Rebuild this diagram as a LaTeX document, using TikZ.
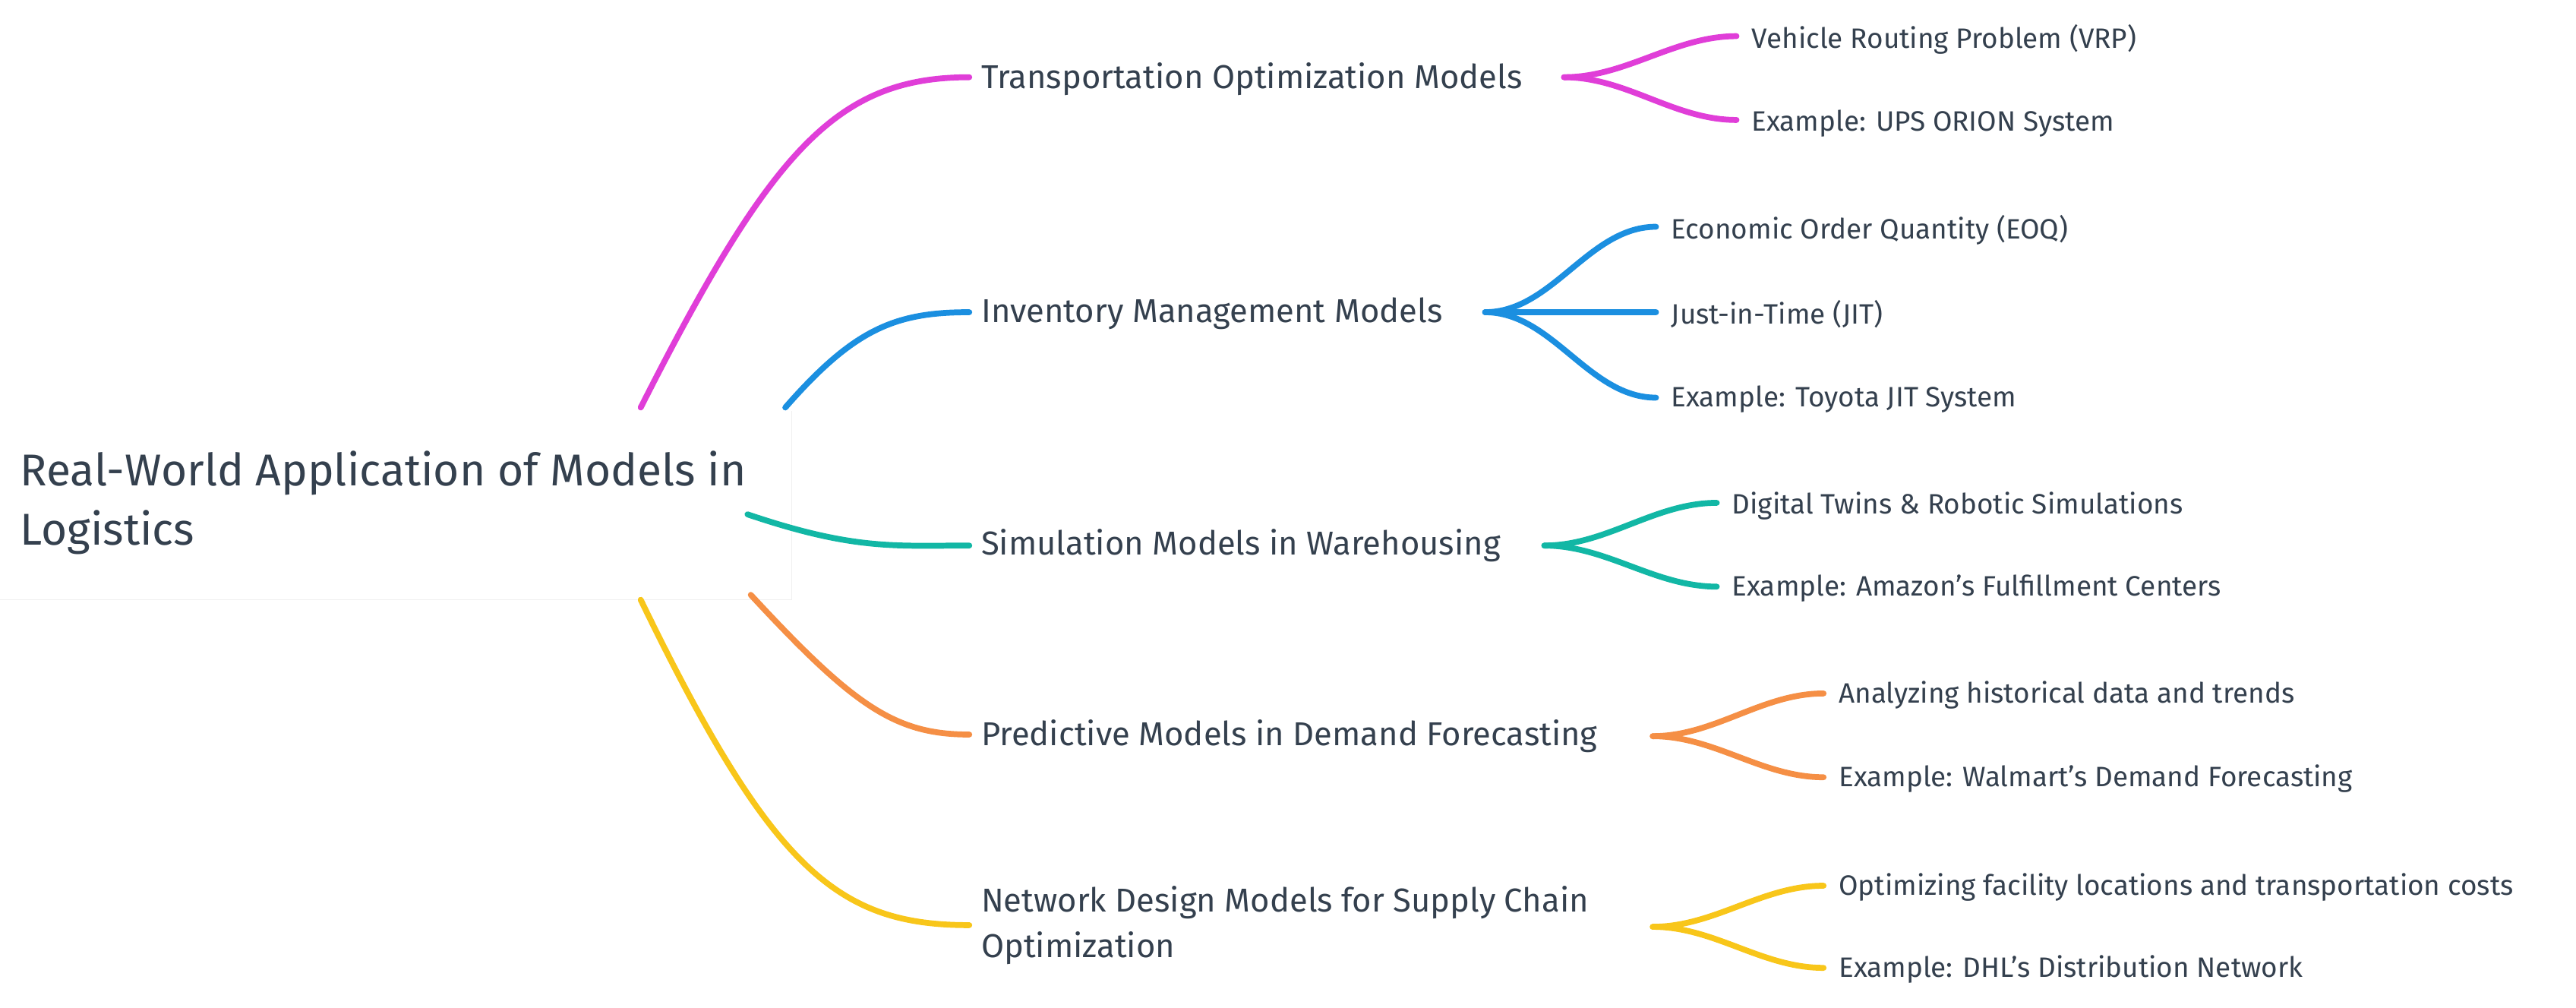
\documentclass[tikz,border=0pt]{standalone}
\usepackage{fontspec}
\setmainfont{Fira Sans}
\begin{document}
\definecolor{tx}{HTML}{34404E}
\definecolor{cmag}{HTML}{E03ED8}
\definecolor{cb}{HTML}{1B8FE0}
\definecolor{ct}{HTML}{12B7A5}
\definecolor{co}{HTML}{F58F45}
\definecolor{cy}{HTML}{F8C61A}
\begin{tikzpicture}[x=0.02163cm,y=-0.02163cm,
  root/.style={anchor=west,align=left,text=tx,font=\fontsize{16.7}{22}\selectfont,inner sep=0pt},
  lone/.style={anchor=west,align=left,text=tx,font=\fontsize{12.4}{17}\selectfont,inner sep=0pt},
  leaf/.style={anchor=west,text=tx,font=\fontsize{10.5}{13}\selectfont,inner sep=0pt},
  br/.style={line width=2.2pt,line cap=round},
  fk/.style={line width=2.2pt,line cap=round,out=0,in=180,looseness=0.9}]
\useasboundingbox (0,0) rectangle (1568,613);
\fill[white] (0,250) rectangle (482,365);
\draw[black!6] (482,250) -- (482,365) -- (0,365);
\node[root] (r) at (12,306) {Real-World Application of Models in\\Logistics};
% level 1
\node[lone] (t) at (597,48) {Transportation Optimization Models};
\node[lone] (i) at (597,191) {Inventory Management Models};
\node[lone] (s) at (597,332) {Simulation Models in Warehousing};
\node[lone] (p) at (597,448) {Predictive Models in Demand Forecasting};
\node[lone] (n) at (597,563) {Network Design Models for Supply Chain\\Optimization};
% branch ends
\coordinate (rt) at (390,248); \coordinate (ri) at (478,248);
\coordinate (rs) at (455,313); \coordinate (rp) at (457,362);
\coordinate (rn) at (390,365);
\draw[br,cmag] (rt) .. controls (470,90) and (510,47) .. (590,47);
\draw[br,cb] (ri) .. controls (520,200) and (545,190) .. (590,190);
\draw[br,ct] (rs) .. controls (520,335) and (545,332) .. (590,332);
\draw[br,co] (rp) .. controls (520,430) and (545,447) .. (590,447);
\draw[br,cy] (rn) .. controls (470,530) and (510,563) .. (590,563);
% leaves
\node[leaf] (t1) at (1066,24) {Vehicle Routing Problem (VRP)};
\node[leaf] (t2) at (1066,75) {Example: UPS ORION System};
\node[leaf] (i1) at (1017,140) {Economic Order Quantity (EOQ)};
\node[leaf] (i2) at (1017,191) {Just-in-Time (JIT)};
\node[leaf] (i3) at (1017,243) {Example: Toyota JIT System};
\node[leaf] (s1) at (1054,308) {Digital Twins \& Robotic Simulations};
\node[leaf] (s2) at (1054,358) {Example: Amazon’s Fulfillment Centers};
\node[leaf] (p1) at (1119,423) {Analyzing historical data and trends};
\node[leaf] (p2) at (1119,474) {Example: Walmart’s Demand Forecasting};
\node[leaf] (n1) at (1119,540) {Optimizing facility locations and transportation costs};
\node[leaf] (n2) at (1119,590) {Example: DHL’s Distribution Network};
\coordinate (tf) at (952,47); \coordinate (if) at (904,190);
\coordinate (sf) at (940,332); \coordinate (pf) at (1006,448);
\coordinate (nf) at (1006,564);
\draw[fk,cmag] (tf) to (1057,22); \draw[fk,cmag] (tf) to (1057,73);
\draw[fk,cb] (if) to (1008,138); \draw[br,cb] (if) -- (1008,190); \draw[fk,cb] (if) to (1008,242);
\draw[fk,ct] (sf) to (1045,306); \draw[fk,ct] (sf) to (1045,357);
\draw[fk,co] (pf) to (1110,422); \draw[fk,co] (pf) to (1110,473);
\draw[fk,cy] (nf) to (1110,539); \draw[fk,cy] (nf) to (1110,589);
\end{tikzpicture}
\end{document}
